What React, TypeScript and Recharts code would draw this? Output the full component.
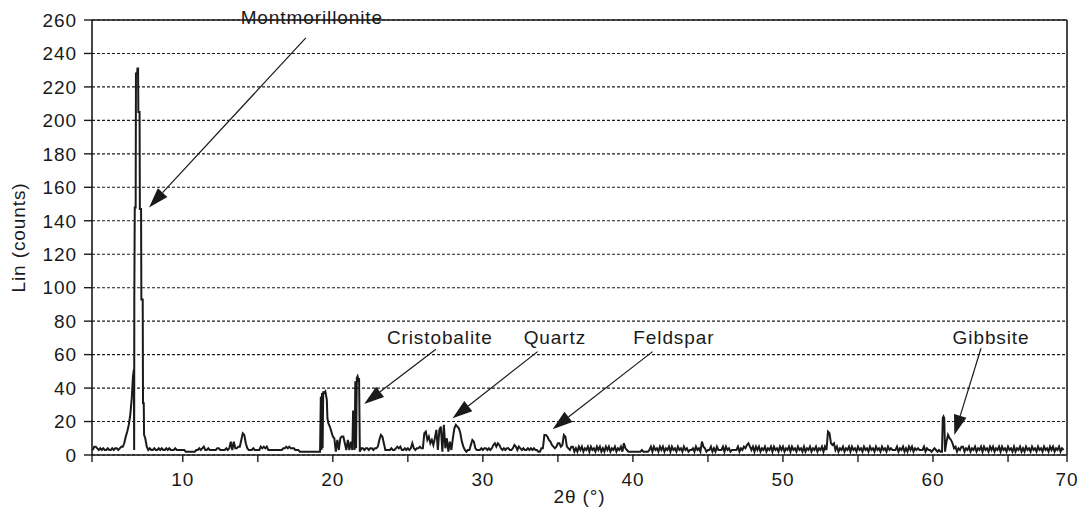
import React from 'react';
import { LineChart, Line, XAxis, YAxis, CartesianGrid, ReferenceLine, ReferenceDot } from 'recharts';

// ---- data (2θ in degrees, counts) ----
// uniformly sampled stretches: start 2θ, step 0.1°, counts
const STEP = 0.1;
const segA = { start: 4.0, counts: [3,5,5,4,3,4,3,4,3,3, 4,3,3,4,3,4,4,3,4,5, 5,7,11,14,18,24] };
const peakMontmorillonite: [number, number][] = [
  [6.6,34],[6.68,47],[6.74,51],[6.76,3],[6.77,94],[6.8,148],[6.86,148],[6.88,228],[6.96,228],[6.98,231],
  [7.02,231],[7.04,205],[7.12,205],[7.14,147],[7.22,147],[7.24,93],[7.33,93],[7.35,31],[7.4,31],[7.42,12],[7.5,10],[7.6,5],
];
const segB = { start: 7.7, counts: [3,4,3,
  3,4,3,3,4,3,4,3,3,4,
  3,4,3,3,3,4,3,3,3,3,
  3,3,2,2,2,2,2,2,2,3,
  3,4,3,4,5,3,3,4,3,3,
  3,3,3,4,4,3,3,3,3,4,
  3,4,8,3,8,4,4,5,5,9,
  13,12,7,4,3,3,3,4,3,3,
  3,3,5,4,5,4,5,3,3,3,
  3,3,3,3,3,3,3,4,4,5,
  4,5,4,4,4,3,3,3,2,2,
  2,2,2,2,2,2,2,2,2,2,
  2,2] };
const peakCristobalite1: [number, number][] = [
  [19.15,2],[19.2,35],[19.24,3],[19.28,37],[19.32,4],[19.36,38],[19.42,37],[19.5,38],[19.56,35],[19.6,33],
  [19.64,22],[19.7,19],[19.8,17],[19.9,14],[20.0,11],[20.1,10],[20.2,2],
];
const segC = { start: 20.3, counts: [9,3,10,11,11,7,3, 9,3,8] };
const peakCristobalite2: [number, number][] = [
  [21.3,3],[21.35,26],[21.42,26],[21.45,3],[21.5,44],[21.55,4],[21.6,46],[21.65,47],[21.7,45],[21.75,46],[21.8,2],
];
const segD = { start: 21.9, counts: [4,
  4,3,4,4,3,4,4,3,4,4,
  5,9,12,11,7,3,3,3,3,4,
  3,3,4,5,4,5,3,3,4,3,
  4,3,4,7,4,3,4,4,5,4,
  4,13,14,9,11,7,9,6,10,15,
  3,15,17,2,18,4,10,2,8,3,
  10,16,18,17,16,13,8,5,3,2,
  3,3,6,9,8,4,3,3,3,4,
  3,4,4,3,4,3,4,6,7,5,
  7,6,4,3,4,3,4,4,3,3,
  4,6,5,3,5,4,3,4,3,3,
  4,3,4,3,4,3,3,2,2,4,
  4,12,12,11,9,8,6,5,4,5,
  7,7,5,6,12,11,5,4,3,5,
  5,2,4,2,5,3,5,2,4,3,
  5,2,5,3,4,2,5,3,5,2,
  4,2,5,3,5,2,4,3,5,2,
  4,3,5,2,7,4,3,2,2,2,
  2,2,2,2,2,2,3,2,2,2,
  2,3,5,2,5,3,4,2,5,3,
  5,2,4,3,5,2,5,3,4,2,
  5,3,4,2,5,3,4,2,3,3,
  4,2,5,3,4,2,8,5,4,2,
  3,3,5,2,4,2,5,3,3,3,
  5,2,5,3,4,2,3,3,3,3,
  5,2,4,3,5,4,6,7,5,3,
  5,2,5,3,5,2,4,3,5,2,
  4,3,5,2,5,3,4,2,5,3,
  5,2,4,3,5,2,5,3,4,2,
  5,3,4,2,5,2,4,3,5,2,
  4,3,5,2,4,3,5,2,5,3,
  14,13,7,6,7,3,5,2,4,3,
  5,2,4,3,5,2,5,3,4,2,
  5,3,4,2,5,3,4,2,5,3,
  4,2,5,3,4,2,5,3,4,2,
  5,3,4,3,3,3,5,2,4,3,
  5,2,4,2,5,3,5,2,4,3,
  4,3,3,3,5,2,4,3,3,2,
  3,4,3,2,3,2] };
const peakGibbsite: [number, number][] = [
  [60.6,2],[60.65,22],[60.7,23],[60.75,22],[60.8,2],[60.9,8],[61.0,12],[61.1,10],[61.2,9],[61.3,7],[61.4,4],
];
const segE = { start: 61.5, counts: [5,2,4,3,5,
  5,2,4,3,5,2,4,3,5,2,
  4,3,5,2,5,3,4,2,5,3,
  5,2,4,3,5,2,5,3,4,2,
  5,3,4,2,5,2,4,3,5,2,
  4,2,5,3,4,2,5,3,4,2,
  5,3,4,2,5,3,4,2,5,3,
  5,2,4,3,5,2,4,3] };

// axis
const X_MIN = 3.95;
const X_MAX = 68.93;
const xTicks = [3.95, 10, 15, 20, 25, 30, 35, 40, 45, 50, 55, 60, 65, 68.93];
const xTickLabels: Record<string, string> = { '10': '10', '20': '20', '30': '30', '40': '40', '50': '50', '60': '60', '68.93': '70' };
const yTicks = [0, 20, 40, 60, 80, 100, 120, 140, 160, 180, 200, 220, 240, 260];

// annotations: label centre and arrow (from -> to) in data units
const annotations = [
  { name: 'Montmorillonite', lx: 18.6, ly: 261.8, fx: 18.2, fy: 249.3, tx: 7.75, ty: 148 },
  { name: 'Cristobalite', lx: 27.13, ly: 70.5, fx: 26.87, fy: 63.2, tx: 22.09, ty: 30.5 },
  { name: 'Quartz', lx: 34.8, ly: 70.5, fx: 33.65, fy: 61.8, tx: 27.98, ty: 21.9 },
  { name: 'Feldspar', lx: 42.73, ly: 70.5, fx: 41.31, fy: 61.8, tx: 34.65, ty: 15.4 },
  { name: 'Gibbsite', lx: 63.87, ly: 70.2, fx: 63.2, fy: 63.8, tx: 61.42, ty: 12 },
];

const seg = (s: { start: number; counts: number[] }) =>
  s.counts.map((c, i) => ({ x: Math.round((s.start + i * STEP) * 100) / 100, y: c }));
const pairs = (p: [number, number][]) => p.map(([x, y]) => ({ x, y }));

const data = [
  ...seg(segA), ...pairs(peakMontmorillonite), ...seg(segB), ...pairs(peakCristobalite1),
  ...seg(segC), ...pairs(peakCristobalite2), ...seg(segD), ...pairs(peakGibbsite), ...seg(segE),
].sort((a, b) => a.x - b.x);

const FONT = '"Liberation Sans", Arial, Helvetica, sans-serif';
const INK = '#1a1a1a';
const FS = 19;
const LS = 0.9;

const Arrow = (props: any) => {
  const { x1, y1, x2, y2 } = props;
  const dx = x2 - x1, dy = y2 - y1;
  const len = Math.hypot(dx, dy) || 1;
  const ux = dx / len, uy = dy / len;
  const head = 20, hw = 6.5;
  const bx = x2 - ux * head, by = y2 - uy * head;
  return (
    <g>
      <line x1={x1} y1={y1} x2={bx} y2={by} stroke={INK} strokeWidth={1.2} />
      <polygon
        points={`${x2},${y2} ${bx - uy * hw},${by + ux * hw} ${bx + uy * hw},${by - ux * hw}`}
        fill={INK}
      />
    </g>
  );
};

const makeLabel = (text: string) => (props: any) => (
  <text x={props.cx} y={props.cy} dy="0.36em" textAnchor="middle" fontFamily={FONT} fontSize={FS}
    letterSpacing={LS} fill={INK}>{text}</text>
);

export default function App() {
  return (
    <div style={{ position: 'absolute', left: 0, top: 0, background: '#fff' }}>
      <LineChart width={1083} height={520} data={data} margin={{ top: 20, right: 16, left: 0, bottom: 0 }}>
        <CartesianGrid vertical={false} stroke={INK} strokeDasharray="3 2" strokeWidth={1.1} />
        <XAxis
          type="number" dataKey="x" domain={[X_MIN, X_MAX]} ticks={xTicks} allowDataOverflow
          height={65} tickSize={7} tickMargin={11} interval={0}
          tickFormatter={(v: number) => xTickLabels[String(v)] ?? ''}
          tick={{ fill: INK, fontSize: FS, fontFamily: FONT, letterSpacing: LS }}
          axisLine={{ stroke: INK, strokeWidth: 1.6 }} tickLine={{ stroke: INK, strokeWidth: 1.4 }}
          label={{
            content: (p: any) => {
              const vb = p.viewBox || {};
              return (
                <text x={vb.x + vb.width / 2} y={496} dy="0.36em" textAnchor="middle" fontFamily={FONT}
                  fontSize={FS} letterSpacing={LS} fill={INK}>2θ (°)</text>
              );
            },
          }}
        />
        <YAxis
          type="number" domain={[0, 260]} ticks={yTicks} width={92} tickSize={8} tickMargin={7} interval={0}
          tick={{ fill: INK, fontSize: FS, fontFamily: FONT, letterSpacing: LS }}
          axisLine={{ stroke: INK, strokeWidth: 1.6 }} tickLine={{ stroke: INK, strokeWidth: 1.4 }}
          label={{
            content: (p: any) => {
              const vb = p.viewBox || {};
              const cy = vb.y + vb.height / 2;
              return (
                <text x={18} y={cy} dy="0.36em" textAnchor="middle" transform={`rotate(-90 18 ${cy})`}
                  fontFamily={FONT} fontSize={FS} letterSpacing={LS} fill={INK}>Lin (counts)</text>
              );
            },
          }}
        />
        <ReferenceLine y={260} stroke={INK} strokeWidth={1.6} />
        <ReferenceLine x={X_MAX} stroke={INK} strokeWidth={1.6} />
        <Line type="linear" dataKey="y" stroke={INK} strokeWidth={2} dot={false} isAnimationActive={false} />
        {annotations.map((a) => (
          <ReferenceLine key={a.name + '-arrow'} segment={[{ x: a.fx, y: a.fy }, { x: a.tx, y: a.ty }]}
            ifOverflow="visible" shape={Arrow} />
        ))}
        {annotations.map((a) => (
          <ReferenceDot key={a.name + '-label'} x={a.lx} y={a.ly} r={0} ifOverflow="visible"
            shape={makeLabel(a.name)} />
        ))}
      </LineChart>
    </div>
  );
}
